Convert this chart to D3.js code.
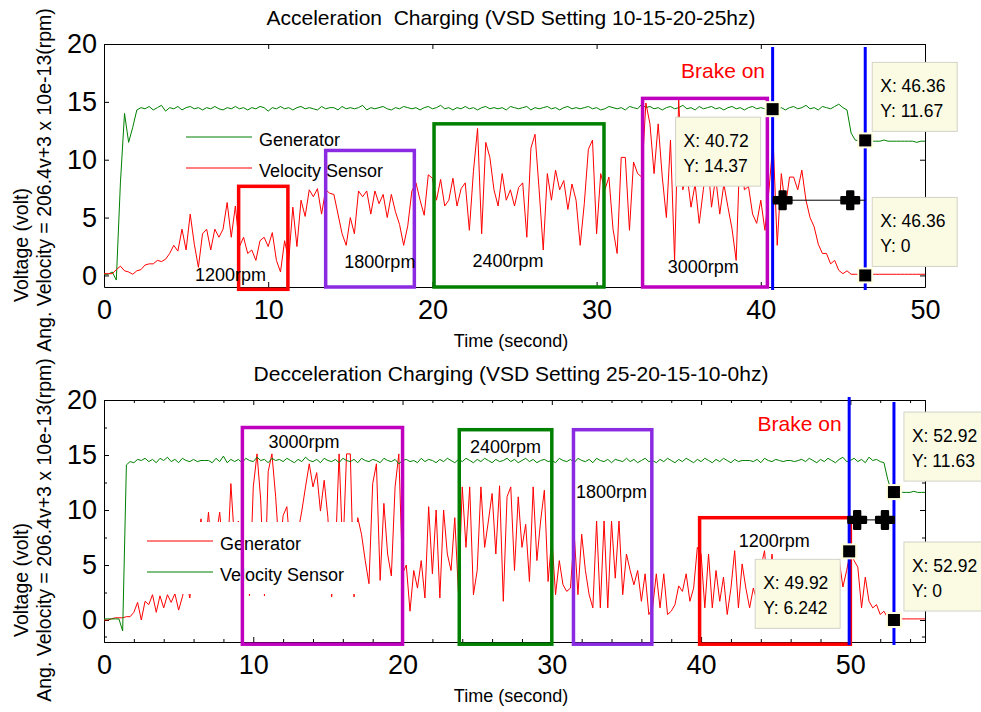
<!DOCTYPE html>
<html>
<head>
<meta charset="utf-8">
<script src="https://cdn.jsdelivr.net/npm/d3@7"></script>
<style>
  body { margin: 0; background: #fff; }
  svg { font-family: "Liberation Sans", Arial, sans-serif; }
  text { white-space: pre; }
  .axis .domain, .axis line { stroke: #000; }
  .axis text { fill: #000; font-size: 27px; font-family: "Liberation Sans", Arial, sans-serif; }
</style>
</head>
<body>
<script>
// samples, one every 0.25 s (one row = one second)
const step = 0.25;

// Acceleration run: red = velocity sensor, green = generator
const accSensor = [
  0.15, 0.15, 0.15, 0.5,   0.8, 0.4, 0.3, 0.1,    0.4, 0.5, 0.9, 1.0,    1.0, 1.3, 1.2, 1.4,
  1.9, 2.6, 2.1, 4.0,      2.2, 5.3, 2.7, 0.7,    3.6, 4.0, 2.2, 4.0,    3.3, 4.0, 6.3, 3.3,
  6.0, 2.5, 3.3, 1.9,      2.2, 1.3, 3.0, 3.3,    2.5, 3.7, 1.3, 0.3,    3.0, 1.3, 5.9, 2.5,
  6.5, 5.1, 7.4, 6.8,      7.5, 5.3, 7.4, 7.1,    7.0, 5.3, 3.6, 2.6,    5.0, 3.6, 7.3, 6.8,
  7.3, 5.3, 7.3, 6.2,      7.0, 5.0, 7.0, 5.5,    4.4, 2.6, 4.3, 7.3,    8.0, 6.5, 5.2, 8.7,
  8.4, 6.5, 8.3, 6.0,      6.5, 8.4, 6.0, 7.5,    8.0, 3.9, 9.0, 12.7,   3.6, 11.5, 10.2, 7.4,
  6.0, 8.8, 6.5, 7.4,      6.0, 7.6, 8.0, 3.3,    11.0, 12.2, 7.4, 2.2,  8.8, 6.5, 9.1, 7.4,
  8.2, 5.7, 7.9, 6.5,      2.6, 6.2, 10.9, 11.7,  3.6, 8.8, 7.4, 8.5,    4.0, 1.9, 10.2, 10.2,
  3.9, 9.8, 8.8, 8.5,      14.9, 13.1, 8.8, 13.1, 8.5, 5.0, 11.7, 1.3,   15.2, 7.4, 8.8, 5.9,
  7.9, 4.5, 7.4, 10.2,     5.9, 8.5, 5.3, 7.9,    5.9, 4.0, 1.3, 11.7,   7.4, 7.7, 5.3, 4.5,
  6.5, 3.9, 7.4, 11.7,     2.6, 8.8, 5.9, 8.5,    8.5, 7.4, 9.1, 6.5,    5.0, 4.2, 2.7, 1.9,
  1.9, 1.0, 1.3, 0.44,     0.15, 0.4, 0.1, 0.1,   0.1, 0.1, 0.1, 0.1,    0.1, 0.1, 0.1, 0.1,
  0.1, 0.1, 0.1, 0.1,      0.1, 0.1, 0.1, 0.1,    0.1
];
const accGenerator = [
  0.1, 0.1, 0.3, -0.4,     8.0, 14.0, 11.5, 12.8, 14.3, 14.5, 14.4, 14.6, 14.3, 14.5, 14.7, 14.2,
  14.5, 14.4, 14.6, 14.3,  14.5, 14.6, 14.4, 14.5, 14.3, 14.5, 14.4, 14.6, 14.4, 14.3, 14.5, 14.4,
  14.6, 14.4, 14.5, 14.3,  14.5, 14.4, 14.6, 14.5, 14.2, 14.5, 14.4, 14.6, 14.4, 14.5, 14.3, 14.5,
  14.6, 14.4, 14.5, 14.4,  14.3, 14.6, 14.4, 14.5, 14.5, 14.3, 14.6, 14.4, 14.5, 14.4, 14.5, 14.7,
  14.3, 14.5, 14.4, 14.5,  14.6, 14.4, 14.3, 14.5, 14.4, 14.6, 14.5, 14.4, 14.5, 14.3, 14.5, 14.6,
  14.4, 14.5, 14.7, 14.4,  14.5, 14.3, 14.5, 14.4, 14.6, 14.4, 14.5, 14.3, 14.5, 14.6, 14.4, 14.5,
  14.4, 14.5, 14.3, 14.6,  14.5, 14.4, 14.5, 14.6, 14.3, 14.5, 14.4, 14.5, 14.6, 14.4, 14.5, 14.3,
  14.5, 14.6, 14.4, 14.5,  14.4, 14.5, 14.6, 14.4, 14.5, 14.3, 14.4, 14.6, 14.5, 14.4, 14.5, 14.3,
  14.6, 14.5, 14.4, 14.8,  14.5, 14.6, 14.4, 14.5, 14.3, 14.5, 14.6, 14.4, 14.5, 14.7, 14.4, 14.5,
  14.3, 14.6, 14.4, 14.5,  14.6, 14.4, 14.5, 14.3, 14.5, 14.6, 14.4, 14.5, 14.3, 14.5, 14.6, 14.4,
  14.5, 14.4, 14.4, 14.6,  14.4, 14.5, 14.3, 14.5, 14.6, 14.4, 14.5, 14.7, 14.4, 14.5, 14.3, 14.6,
  14.5, 14.4, 14.6, 14.8,  14.5, 14.3, 12.3, 11.7, 11.6, 11.6, 11.6, 11.6, 11.6, 11.6, 11.7, 11.6,
  11.6, 11.6, 11.6, 11.6,  11.6, 11.6, 11.5, 11.6, 11.6
];

// Deceleration run: red = generator, green = velocity sensor
const decGenerator = [
  0.0, 0.0, 0.1, 0.2,      0.2, 0.2, 0.3, 0.3,    0.7, 1.6, 0.0, 1.7,    1.4, 2.3, 0.7, 2.2,
  1.1, 2.3, 1.6, 2.4,      0.9, 2.1, 3.5, 2.0,    5.0, 7.0, 9.2, 6.0,    9.8, 5.5, 7.5, 9.8,
  6.0, 5.0, 12.4, 7.0,     9.0, 2.0, 5.0, 2.2,    12.1, 15.1, 10.9, 2.2, 13.5, 15.1, 11.2, 6.0,
  9.5, 10.3, 6.0, 4.0,     8.0, 9.9, 12.1, 14.2,  12.1, 13.4, 9.9, 12.7, 9.3, 2.1, 6.0, 15.1,
  6.0, 15.1, 15.1, 2.1,    9.3, 7.8, 5.4, 3.3,    12.4, 14.2, 3.6, 10.6, 6.0, 4.0, 12.1, 15.1,
  4.2, 5.0, 0.8, 4.5,      2.9, 5.4, 2.0, 10.3,   4.2, 10.0, 2.0, 10.0,  6.0, 4.5, 9.3, 2.3,
  12.1, 6.6, 12.1, 2.3,    4.5, 12.1, 6.6, 9.0,   11.5, 6.0, 12.2, 1.7,  11.2, 12.1, 4.5, 11.2,
  6.6, 8.7, 3.5, 12.1,     5.4, 9.0, 11.8, 3.5,   7.5, 2.3, 5.4, 3.2,    2.6, 2.9, 7.8, 2.3,
  7.8, 4.5, 2.3, 1.1,      9.0, 1.1, 9.0, 1.1,    9.0, 3.8, 9.0, 2.3,    6.0, 4.5, 3.2, 4.5,
  1.7, 4.2, 0.5, 1.1,      4.2, 1.1, 4.2, 0.5,    0.8, 1.4, 3.1, 2.6,    4.2, 1.7, 2.9, 6.6,
  6.0, 1.1, 6.0, 1.1,      4.5, 1.7, 3.9, 0.5,    2.9, 6.3, 1.1, 5.1,    2.9, 1.1, 2.9, 1.7,
  4.8, 6.3, 2.0, 6.0,      2.5, 4.0, 1.5, 3.5,    4.0, 2.0, 3.0, 1.5,    3.5, 2.0, 4.5, 2.5,
  1.5, 3.5, 2.0, 4.0,      2.5, 5.5, 3.0, 4.5,    6.2, 5.4, 4.8, 1.1,    3.9, 1.7, 1.1, 1.4,
  0.5, 0.8, 0.2, 0.1,      0.1, 0.1, 0.1, 0.1,    0.1, 0.1, 0.1, 0.1,    0.1
];
const decSensor = [
  0.1, 0.1, 0.1, 0.1,      0.1, -1.0, 14.1, 14.4, 14.3, 14.6, 14.5, 14.7, 14.4, 14.6, 14.3, 14.7,
  14.5, 14.8, 14.4, 14.6,  14.3, 14.7, 14.5, 14.4, 14.6, 14.4, 14.5, 14.5, 14.5, 14.3, 14.7, 14.4,
  14.9, 14.3, 14.6, 14.4,  14.6, 14.3, 14.7, 14.5, 14.4, 14.8, 14.5, 14.6, 14.3, 14.7, 14.5, 14.6,
  14.4, 14.7, 14.5, 14.3,  14.6, 14.4, 14.8, 14.5, 14.4, 14.6, 14.3, 14.7, 14.5, 14.4, 14.6, 14.3,
  14.7, 14.5, 14.4, 14.6,  14.3, 14.7, 14.5, 14.4, 14.6, 14.5, 14.3, 14.7, 14.5, 14.4, 14.6, 14.2,
  14.5, 14.6, 14.4, 14.5,  14.3, 14.7, 14.4, 14.6, 14.5, 14.3, 14.6, 14.4, 14.7, 14.5, 14.3, 14.6,
  14.4, 14.7, 14.5, 14.3,  14.6, 14.4, 14.7, 14.5, 14.3, 14.6, 14.4, 14.5, 14.7, 14.4, 14.6, 14.3,
  14.5, 14.7, 14.4, 14.6,  14.3, 14.5, 14.6, 14.4, 14.5, 14.3, 14.7, 14.5, 14.4, 14.6, 14.3, 14.7,
  14.5, 14.4, 14.6, 14.3,  14.7, 14.5, 14.4, 14.6, 14.3, 14.6, 14.5, 14.4, 14.7, 14.4, 14.6, 14.3,
  14.5, 14.7, 14.4, 14.5,  14.3, 14.6, 14.4, 14.7, 14.5, 14.3, 14.6, 14.4, 14.7, 14.5, 14.3, 14.6,
  14.4, 14.7, 14.5, 14.3,  14.6, 14.4, 14.7, 14.5, 14.3, 14.6, 14.4, 14.5, 14.5, 14.5, 14.4, 14.6,
  14.3, 14.7, 14.5, 14.4,  14.6, 14.5, 14.4, 14.5, 14.5, 14.4, 14.5, 14.6, 14.4, 14.7, 14.5, 14.3,
  14.6, 14.4, 14.7, 14.5,  14.3, 14.6, 14.8, 14.4, 14.5, 14.7, 14.4, 14.6, 14.3, 14.8, 14.5, 14.6,
  14.4, 14.3, 12.8, 11.7,  11.6, 11.6, 11.6, 11.6, 11.6, 11.7, 11.6, 11.6, 11.6
];

// axis ticks
const accTicksX = [0, 10, 20, 30, 40, 50];
const decTicksX = [0, 10, 20, 30, 40, 50];
const ticksY = [0, 5, 10, 15, 20];
const decMinorX = [2, 4, 6, 8, 12, 14, 16, 18, 22, 24, 26, 28, 32, 34, 36, 38, 42, 44, 46, 48, 52, 54];
const decMinorY = [-1.5, 2.5, 7.5, 12.5, 17.5];

// speed windows (time from / to, volt from / to)
const accWinLabel = ["1200rpm", "1800rpm", "2400rpm", "3000rpm"];
const accWinT0 = [8.2, 13.5, 20.1, 32.8];
const accWinT1 = [11.2, 18.9, 30.45, 40.4];
const accWinV0 = [-1.2, -1.0, -1.0, -1.0];
const accWinV1 = [7.7, 10.8, 13.1, 15.3];
const decWinLabel = ["3000rpm", "2400rpm", "1800rpm", "1200rpm"];
const decWinT0 = [9.27, 23.8, 31.45, 39.9];
const decWinT1 = [20.0, 30.0, 36.7, 50.0];
const decWinV0 = [-2.2, -2.2, -2.2, -2.2];
const decWinV1 = [17.5, 17.3, 17.3, 9.3];

// data tips
const accTipX = [40.72, 46.36, 46.36];
const accTipY = [14.37, 11.67, 0];
const decTipX = [49.92, 52.92, 52.92];
const decTipY = [6.242, 11.63, 0];

const W = 981, H = 712;
const svg = d3.select("body").append("svg").attr("width", W).attr("height", H);
const fmt = d3.format(".4~g");

function panel(p) {
  const x = d3.scaleLinear().domain(p.xDomain).range([104, 925]);
  const y = d3.scaleLinear().domain(p.yDomain).range([p.bottom, p.top]);
  const g = svg.append("g");

  // axes (ticks inside, MATLAB style)
  g.append("g").attr("class", "axis").attr("transform", `translate(0,${p.bottom})`)
    .call(d3.axisBottom(x).tickValues(p.ticksX).tickSizeInner(-5).tickSizeOuter(0).tickPadding(13));
  g.append("g").attr("class", "axis").attr("transform", `translate(0,${p.top})`)
    .call(d3.axisTop(x).tickValues(p.ticksX).tickSizeInner(-5).tickSizeOuter(0).tickFormat(""));
  g.append("g").attr("class", "axis").attr("transform", "translate(104,0)")
    .call(d3.axisLeft(y).tickValues(ticksY).tickSizeInner(-5).tickSizeOuter(0).tickPadding(7));
  g.append("g").attr("class", "axis").attr("transform", "translate(925,0)")
    .call(d3.axisRight(y).tickValues(ticksY).tickSizeInner(-5).tickSizeOuter(0).tickFormat(""));

  if (p.minorX) {
    [[d3.axisBottom, p.bottom], [d3.axisTop, p.top]].forEach(([ax, yy]) => {
      g.append("g").attr("class", "axis").attr("transform", `translate(0,${yy})`)
        .call(ax(x).tickValues(p.minorX).tickSizeInner(-3).tickSizeOuter(0).tickFormat(""));
    });
    [[d3.axisLeft, 104], [d3.axisRight, 925]].forEach(([ax, xx]) => {
      g.append("g").attr("class", "axis").attr("transform", `translate(${xx},0)`)
        .call(ax(y).tickValues(p.minorY).tickSizeInner(-3).tickSizeOuter(0).tickFormat(""));
    });
  }

  // titles
  g.append("text").attr("x", 511).attr("y", p.titleY).attr("text-anchor", "middle")
    .attr("font-size", 21).text(p.title);
  g.append("text").attr("x", 511).attr("y", p.bottom + 60).attr("text-anchor", "middle")
    .attr("font-size", 18).text("Time (second)");
  g.append("text").attr("transform", `translate(21,${p.voltY}) rotate(-90)`).attr("dy", "0.35em")
    .attr("text-anchor", "middle").attr("font-size", 19.5).text("Voltage (volt)");
  g.append("text").attr("transform", `translate(44,${p.angY}) rotate(-90)`).attr("dy", "0.35em")
    .attr("text-anchor", "middle").attr("font-size", 19.5)
    .text("Ang. Velocity = 206.4v+3 x 10e-13(rpm)");

  // signals
  const line = d3.line().x((d, i) => x(i * step)).y(d => y(d));
  p.series.forEach(s => {
    g.append("path").datum(s.values).attr("d", line)
      .attr("fill", "none").attr("stroke", s.color).attr("stroke-width", 1);
  });

  // legend (the lower one has an opaque background that hides part of the trace)
  if (p.legendBg) {
    const b = p.legendBg;
    g.append("rect").attr("x", b[0]).attr("y", b[1]).attr("width", b[2]).attr("height", b[3])
      .attr("fill", "#fff");
  }
  p.series.forEach((s, i) => {
    const ly = p.legendY + i * 31;
    g.append("line").attr("x1", p.legendX).attr("x2", p.legendX + 66)
      .attr("y1", ly).attr("y2", ly).attr("stroke", s.color).attr("stroke-width", 1.2);
    g.append("text").attr("x", p.legendX + 73).attr("y", ly + 9)
      .attr("font-size", 18).text(s.name);
  });

  // speed windows
  p.win.label.forEach((lab, i) => {
    g.append("rect")
      .attr("x", x(p.win.t0[i])).attr("y", y(p.win.v1[i]))
      .attr("width", x(p.win.t1[i]) - x(p.win.t0[i]))
      .attr("height", y(p.win.v0[i]) - y(p.win.v1[i]))
      .attr("fill", "none").attr("stroke", p.winColor[i]).attr("stroke-width", 3.5);
    g.append("text").attr("x", x(p.winLabelAt[i][0])).attr("y", y(p.winLabelAt[i][1]))
      .attr("text-anchor", "middle").attr("font-size", 18).text(lab);
  });

  // brake markers
  const tipX = p.tipX, tipY = p.tipY;
  [tipX[0], tipX[1]].forEach((tx, i) => {
    g.append("line").attr("x1", x(tx)).attr("x2", x(tx))
      .attr("y1", p.top + p.blueTop[i]).attr("y2", p.bottom + 3)
      .attr("stroke", "#0000ff").attr("stroke-width", 3);
  });
  const ay = y(p.arrowV);
  g.append("line").attr("x1", x(tipX[0])).attr("x2", x(tipX[1]))
    .attr("y1", ay).attr("y2", ay).attr("stroke", "#000").attr("stroke-width", 1);
  [x(tipX[0]) + p.headOff[0], x(tipX[1]) + p.headOff[1]].forEach(hx => {
    g.append("path").attr("transform", `translate(${hx},${ay})`)
      .attr("d", d3.symbol(d3.symbolCross, 170)())
      .attr("fill", "#000").attr("stroke", "#000").attr("stroke-width", 2.5)
      .attr("stroke-linejoin", "round");
  });
  g.append("text").attr("x", x(p.brakeAt[0])).attr("y", y(p.brakeAt[1]))
    .attr("text-anchor", "middle").attr("font-size", 21).attr("fill", "#ff0000").text("Brake on");

  // data tips
  tipX.forEach((tx, i) => {
    const cx = x(tx), cy = y(tipY[i]);
    g.append("rect").attr("x", cx - 8).attr("y", cy - 8).attr("width", 16).attr("height", 16)
      .attr("fill", "#ffffe0");
    g.append("rect").attr("x", cx - 6).attr("y", cy - 6).attr("width", 12).attr("height", 12)
      .attr("fill", "#000");
    const bx = cx + p.tipOff[i][0], by = cy + p.tipOff[i][1];
    g.append("rect").attr("x", bx).attr("y", by).attr("width", 85).attr("height", 69)
      .attr("fill", "#fbfbe3").attr("stroke", "#d2d2c8").attr("stroke-width", 1);
    g.append("text").attr("x", bx + 8).attr("y", by + 30).attr("font-size", 17.5)
      .text("X: " + fmt(tx));
    g.append("text").attr("x", bx + 8).attr("y", by + 55).attr("font-size", 17.5)
      .text("Y: " + fmt(tipY[i]));
  });
}

panel({
  title: "Acceleration  Charging (VSD Setting 10-15-20-25hz)", titleY: 25,
  top: 44, bottom: 287, xDomain: [0, 50], yDomain: [-1, 20],
  ticksX: accTicksX, voltY: 245, angY: 180,
  series: [
    { name: "Generator", values: accGenerator, color: "#008000" },
    { name: "Velocity Sensor", values: accSensor, color: "#ff0000" }
  ],
  legendX: 186, legendY: 137,
  win: { label: accWinLabel, t0: accWinT0, t1: accWinT1, v0: accWinV0, v1: accWinV1 },
  winColor: ["#ff0000", "#8a2be2", "#008000", "#bf00bf"],
  winLabelAt: [[7.7, -0.45], [16.8, 0.6], [24.6, 0.7], [36.5, 0.2]],
  tipX: accTipX, tipY: accTipY,
  tipOff: [[-97, 8], [7, -78], [7, -78]],
  blueTop: [3, 3], arrowV: 6.5, headOff: [10, -15], brakeAt: [37.7, 17.05]
});

panel({
  title: "Decceleration Charging (VSD Setting 25-20-15-10-0hz)", titleY: 381,
  top: 400, bottom: 642, xDomain: [0, 55], yDomain: [-2, 20],
  ticksX: decTicksX, voltY: 580, angY: 530,
  minorX: decMinorX, minorY: decMinorY,
  series: [
    { name: "Generator", values: decGenerator, color: "#ff0000" },
    { name: "Velocity Sensor", values: decSensor, color: "#008000" }
  ],
  legendBg: [140, 522, 218, 72],
  legendX: 147, legendY: 541,
  win: { label: decWinLabel, t0: decWinT0, t1: decWinT1, v0: decWinV0, v1: decWinV1 },
  winColor: ["#bf00bf", "#008000", "#8a2be2", "#ff0000"],
  winLabelAt: [[13.4, 15.6], [26.9, 15.2], [34.0, 11.1], [44.9, 6.6]],
  tipX: decTipX, tipY: decTipY,
  tipOff: [[-94, 8], [10, -80], [10, -78]],
  blueTop: [-3, 2], arrowV: 9.1, headOff: [8, -9], brakeAt: [46.6, 17.2]
});
</script>
</body>
</html>
